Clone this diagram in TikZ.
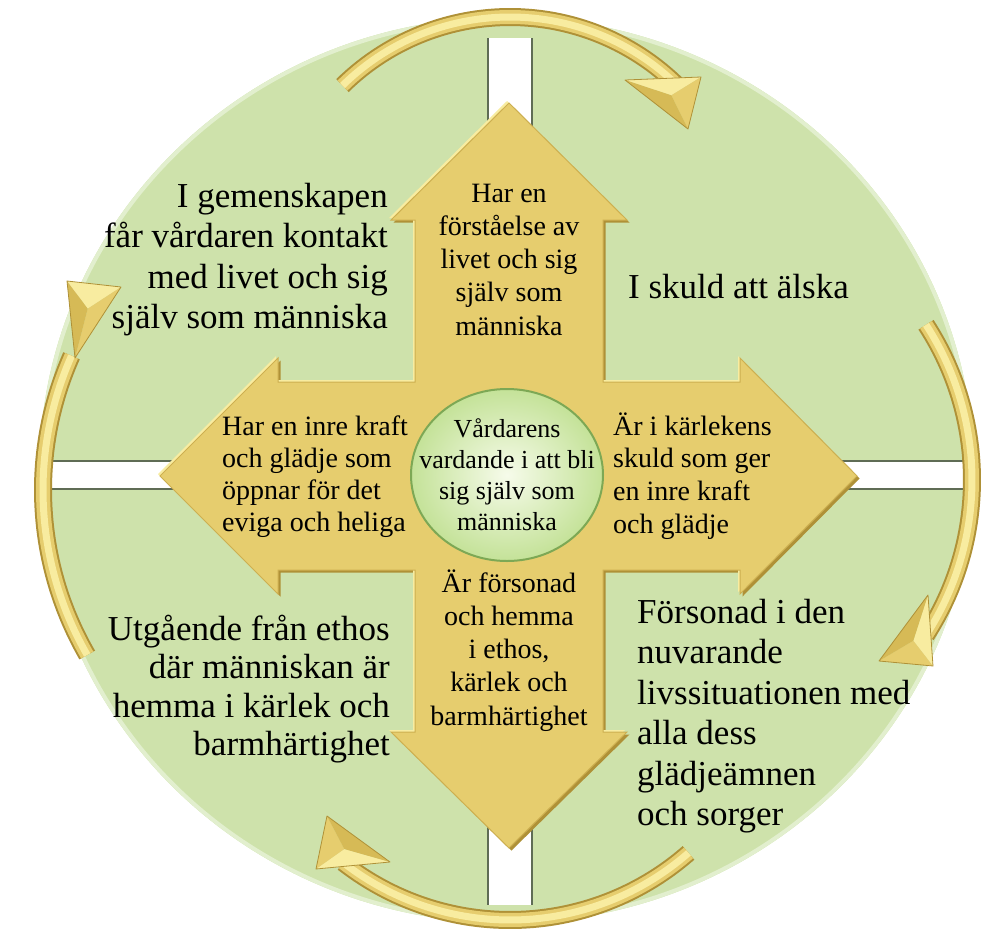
\documentclass[tikz,border=0pt]{standalone}
\usepackage{fontspec}
\setmainfont{Liberation Serif}
\usetikzlibrary{shapes.geometric}
\definecolor{circgreen}{RGB}{206,226,171}
\definecolor{rimgreen}{RGB}{226,239,206}
\definecolor{gold}{RGB}{230,205,110}
\definecolor{goldedge}{RGB}{205,175,80}
\definecolor{golddark}{RGB}{175,145,55}
\definecolor{goldmid}{RGB}{214,186,86}
\definecolor{goldlight}{RGB}{248,236,160}
\definecolor{bandedge}{RGB}{95,108,85}
\definecolor{elfill}{RGB}{196,226,152}
\definecolor{elcenter}{RGB}{246,251,234}
\definecolor{eledge}{RGB}{125,168,85}
\newcommand\crossshape{(415,382) -- (415,220) -- (391,220) -- (509,103) -- (627,220) -- (603,220) -- (603,382) -- (740,382) -- (740,358) -- (857,476) -- (740,594) -- (740,570) -- (603,570) -- (603,732) -- (627,732) -- (509,848) -- (391,732) -- (415,732) -- (415,570) -- (278,570) -- (278,594) -- (160,476) -- (278,358) -- (278,382) -- cycle}
% head: #1,#2,#3 vertices, #4 centroid
\newcommand\headtri[4]{%
  \fill[goldlight] #1 -- #2 -- #4 -- cycle;
  \fill[gold] #2 -- #3 -- #4 -- cycle;
  \fill[goldmid] #3 -- #1 -- #4 -- cycle;
  \draw[golddark, line width=0.8pt, line join=round] #1 -- #2 -- #3 -- cycle;}
\tikzset{
  outertext/.style={font=\fontsize{35}{40.5}\selectfont, inner sep=0pt},
  armtext/.style={font=\fontsize{28}{33.3}\selectfont, inner sep=0pt},
  coretextstyle/.style={font=\fontsize{26}{31}\selectfont, inner sep=0pt},
  shaftdark/.style={line width=18pt, golddark},
  shaftmid/.style={line width=14pt, gold},
  shaftlight/.style={line width=7pt, goldlight},
}
\begin{document}
\begin{tikzpicture}[x=1pt,y=-1pt]
\useasboundingbox (0,0) rectangle (997,935);
% green disc
\fill[circgreen] (506.5,470) ellipse [x radius=467pt, y radius=453pt];
\draw[rimgreen, line width=4pt] (506.5,470) ellipse [x radius=465pt, y radius=451pt];
% white bands
\begin{scope}
\clip (506.5,470) ellipse [x radius=466pt, y radius=452pt];
\fill[white] (487,38) rectangle (533,905);
\fill[white] (30,460) rectangle (985,490);
\draw[bandedge, line width=2.5pt] (488,38) -- (488,460) (488,490) -- (488,905);
\draw[bandedge, line width=2.5pt] (532,38) -- (532,460) (532,490) -- (532,905);
\draw[bandedge, line width=2.5pt] (30,461) -- (487,461) (533,461) -- (985,461);
\draw[bandedge, line width=2.5pt] (30,489) -- (487,489) (533,489) -- (985,489);
\end{scope}
% cross arrow with bevel
\fill[golddark, shift={(2.5,2.5)}] \crossshape;
\fill[goldlight, shift={(-2,-2)}] \crossshape;
\fill[gold] \crossshape;
\draw[goldedge, line width=1pt, line join=miter] \crossshape;
% centre ellipse
\node[ellipse, minimum width=192pt, minimum height=172pt, inner color=elcenter, outer color=elfill, draw=eledge, line width=2pt, shade] (core) at (507,475) {};
% curved arrows: top
\foreach \s in {shaftdark,shaftmid,shaftlight}
  \draw[\s] plot[domain=-134.5:-45, samples=60] ({510+239*cos(\x)},{256+239*sin(\x)});
\headtri{(625,80)}{(701,77)}{(688,129)}{(671.3,95.3)}
% right
\foreach \s in {shaftdark,shaftmid,shaftlight}
  \draw[\s] plot[domain=-33:33, samples=60] ({687+285*cos(\x)},{480+285*sin(\x)});
\headtri{(928,595)}{(933,666)}{(879,661)}{(913.3,640.7)}
% bottom
\foreach \s in {shaftdark,shaftmid,shaftlight}
  \draw[\s] plot[domain=48.8:128, samples=60] ({510+271*cos(\x)},{649+271*sin(\x)});
\headtri{(390,862)}{(316,869)}{(327,816)}{(344.3,849)}
% left
\foreach \s in {shaftdark,shaftmid,shaftlight}
  \draw[\s] plot[domain=150:204, samples=60] ({373+330*cos(\x)},{490+330*sin(\x)});
\headtri{(67,281)}{(121,287)}{(75,358)}{(87.7,308.7)}
% arm texts
\node[armtext, anchor=base] (up) at (509,202) {\begin{tabular}[t]{@{}c@{}}Har en\\förståelse av\\livet och sig\\själv som\\människa\end{tabular}};
\node[armtext, anchor=base] (down) at (509,592) {\begin{tabular}[t]{@{}c@{}}Är försonad\\och hemma\\i ethos,\\kärlek och\\barmhärtighet\end{tabular}};
\node[armtext, font=\fontsize{28}{32}\selectfont, anchor=base west] (left) at (222,435) {\begin{tabular}[t]{@{}l@{}}Har en inre kraft\\och glädje som\\öppnar för det\\eviga och heliga\end{tabular}};
\node[armtext, font=\fontsize{28}{32.7}\selectfont, anchor=base west] (right) at (613,435) {\begin{tabular}[t]{@{}l@{}}Är i kärlekens\\skuld som ger\\en inre kraft\\och glädje\end{tabular}};
\node[coretextstyle, anchor=base] (coretext) at (507,437) {\begin{tabular}[t]{@{}c@{}}Vårdarens\\vardande i att bli\\sig själv som\\människa\end{tabular}};
% outer texts
\node[outertext, anchor=base east] (tl) at (388,207) {\begin{tabular}[t]{@{}r@{}}I gemenskapen\\får vårdaren kontakt\\med livet och sig\\själv som människa\end{tabular}};
\node[outertext, anchor=base west] (tr) at (628,298) {I skuld att älska};
\node[outertext, font=\fontsize{35}{38.5}\selectfont, anchor=base east] (bl) at (390,640) {\begin{tabular}[t]{@{}r@{}}Utgående från ethos\\där människan är\\hemma i kärlek och\\barmhärtighet\end{tabular}};
\node[outertext, anchor=base west] (br) at (637,623) {\begin{tabular}[t]{@{}l@{}}Försonad i den\\nuvarande\\livssituationen med\\alla dess\\glädjeämnen\\och sorger\end{tabular}};
\end{tikzpicture}
\end{document}
